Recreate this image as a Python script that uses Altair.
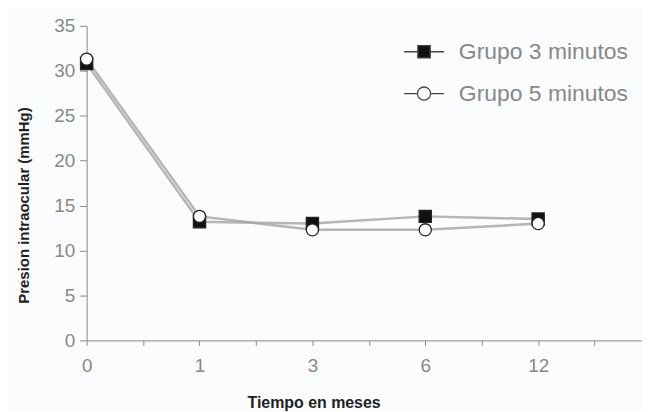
import altair as alt
import pandas as pd

meses = ["0", "1", "3", "6", "12"]
grupo3 = [30.8, 13.2, 13.0, 13.8, 13.5]
grupo5 = [31.3, 13.8, 12.3, 12.3, 13.0]
series = ["Grupo 3 minutos", "Grupo 5 minutos"]

rows = []
for name, vals in zip(series, [grupo3, grupo5]):
    for i, (m, v) in enumerate(zip(meses, vals)):
        rows.append({"idx": i, "mes": m, "valor": v, "Grupo": name})
df = pd.DataFrame(rows)

label_expr = "datum.value % 1 == 0 ? ['0','1','3','6','12'][datum.value] : ''"

x_enc = alt.X("idx:Q",
              scale=alt.Scale(domain=[0, 4.92], nice=False, zero=False),
              axis=alt.Axis(title="Tiempo en meses",
                            values=[0, 0.5, 1, 1.5, 2, 2.5, 3, 3.5, 4, 4.5],
                            labelExpr=label_expr, grid=False, labelFlush=False,
                            domainColor="#888", tickColor="#888", tickSize=5,
                            labelColor="#888", labelFont="Liberation Sans",
                            labelFontSize=19, labelPadding=11,
                            titleFont="Liberation Sans", titleFontSize=16,
                            titleFontWeight="bold", titleColor="#222",
                            titlePadding=19, titleX=228))
y_enc = alt.Y("valor:Q",
              scale=alt.Scale(domain=[0, 35], nice=False),
              axis=alt.Axis(title="Presion intraocular (mmHg)",
                            values=[0, 5, 10, 15, 20, 25, 30, 35],
                            grid=False, domainColor="#888", tickColor="#888",
                            tickSize=7, labelColor="#888",
                            labelFont="Liberation Sans", labelFontSize=19,
                            labelPadding=5,
                            titleFont="Liberation Sans", titleFontSize=15,
                            titleFontWeight="bold", titleColor="#222",
                            titlePadding=22, titleY=180))

base = alt.Chart(df).encode(x=x_enc, y=y_enc)

lines = base.mark_line(strokeWidth=2.5, opacity=0.85).encode(
    detail="Grupo:N", color=alt.value("#a8a8a8"))

points = base.mark_point(size=150, filled=False, strokeWidth=1.3, opacity=1).encode(
    shape=alt.Shape("Grupo:N", scale=alt.Scale(domain=series, range=["square", "circle"]),
                    legend=None),
    fill=alt.Fill("Grupo:N", scale=alt.Scale(domain=series, range=["#111", "#ffffff"]),
                  legend=None),
    stroke=alt.value("#222"),
)

sq = "M-1,0H-0.31M0.31,0H1M-0.31,-0.31H0.31V0.31H-0.31Z"
ci = "M-1,0H-0.33M0.33,0H1M0.33,0A0.33,0.33 0 1,1 -0.33,0A0.33,0.33 0 1,1 0.33,0Z"

leg = alt.Legend(title=None, orient="none", legendX=318, legendY=5,
                 labelFont="Liberation Sans", labelFontSize=23,
                 labelColor="#888", labelLimit=400, symbolSize=1600,
                 symbolStrokeWidth=1.3, symbolOpacity=1,
                 rowPadding=9, labelOffset=14)

leg_layer = base.mark_point(size=0, opacity=0, filled=False, strokeWidth=1.3).encode(
    shape=alt.Shape("Grupo:N", scale=alt.Scale(domain=series, range=[sq, ci]), legend=leg),
    fill=alt.Fill("Grupo:N", scale=alt.Scale(domain=series, range=["#111", "#ffffff"]), legend=leg),
    stroke=alt.value("#444"),
)

chart = alt.layer(lines, points, leg_layer).resolve_scale(
    shape="independent", fill="independent"
).properties(
    width=558, height=316,
    padding={"left": 79, "top": 17, "right": 0, "bottom": 70},
    autosize=alt.AutoSizeParams(type="none"),
    background="#fbfcfd",
).configure_view(stroke=None)

chart.save("out.html", embed_options={"renderer": "svg", "actions": False})
